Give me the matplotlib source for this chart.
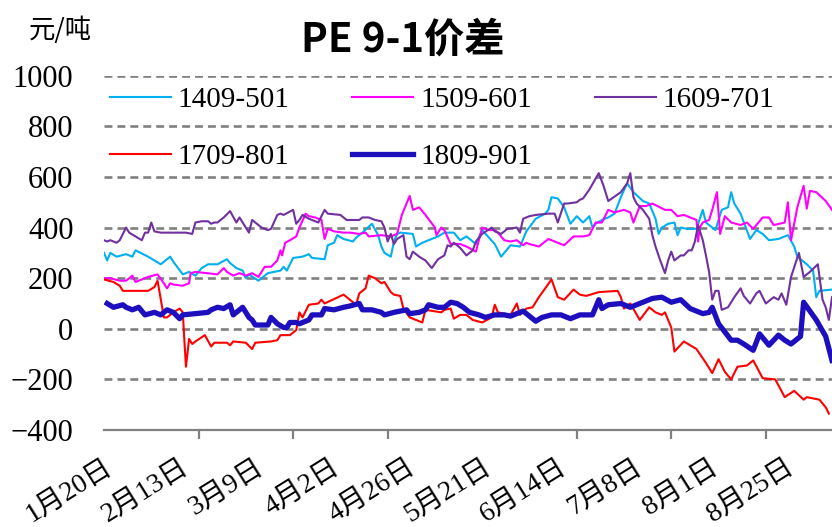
import matplotlib
matplotlib.use("Agg")
import matplotlib.pyplot as plt

plt.rcParams["font.family"] = ["Liberation Serif", "Noto Sans CJK SC"]

# x values are day offsets from 1月20日
tick_days = [0, 24, 48, 72, 96, 120, 144, 168, 192, 216]
tick_labels = ["1月20日", "2月13日", "3月9日", "4月2日", "4月26日",
               "5月21日", "6月14日", "7月8日", "8月1日", "8月25日"]
mark_days = [0, 30, 60, 90, 120, 150, 180, 210]
series_names = ["1409-501", "1509-601", "1609-701", "1709-801", "1809-901"]

x_1409 = [0, 1, 2, 4, 7, 9, 10, 14, 18, 19, 21, 22, 25, 27, 29, 31, 33, 36, 39, 40,
          42, 44, 45, 46, 49, 52, 56, 57, 58, 60, 63, 65, 66, 70, 71, 73, 74, 76, 79, 80,
          82, 85, 87, 88, 89, 91, 92, 93, 94, 98, 99, 101, 103, 106, 108, 111, 113, 115, 118, 120,
          124, 126, 129, 132, 134, 137, 140, 141, 142, 144, 146, 148, 150, 152, 154, 155, 156, 158, 160, 162,
          164, 166, 168, 171, 173, 175, 176, 177, 179, 181, 182, 183, 185, 188, 190, 191, 194, 196, 198, 199,
          200, 202, 205, 207, 209, 211, 214, 217, 219, 220, 223, 225, 226, 227, 231]
y_1409 = [300, 270, 300, 285, 295, 285, 310, 285, 255, 265, 285, 265, 215, 225, 210, 240, 255, 255, 275, 260,
          240, 230, 200, 215, 190, 220, 230, 245, 230, 280, 285, 295, 280, 275, 330, 340, 370, 355, 345, 360,
          380, 415, 370, 325, 300, 285, 345, 375, 380, 375, 325, 340, 350, 365, 380, 380, 350, 365, 335, 390,
          335, 285, 330, 325, 385, 435, 455, 470, 520, 515, 480, 415, 445, 420, 445, 400, 415, 430, 440, 455,
          520, 575, 540, 505, 495, 435, 375, 400, 415, 420, 370, 400, 395, 395, 470, 420, 390, 470, 480, 540,
          495, 455, 355, 390, 375, 350, 355, 370, 325, 285, 255, 230, 125, 150, 155]

x_1509 = [0, 2, 5, 7, 9, 10, 12, 14, 17, 19, 20, 21, 22, 25, 27, 27.5, 29, 36, 38, 39,
          41, 43, 45, 47, 49, 51, 53, 55, 56, 56.5, 57.5, 59, 61, 62, 64, 65, 67, 69, 70, 71,
          73, 76, 78, 81, 83, 84, 88, 91, 93, 94.5, 97, 98, 100, 102, 105, 105.5, 107, 108, 110, 113,
          115, 118, 120, 122, 124, 125, 127, 129, 131, 133, 134, 135, 138, 141, 143, 146, 149, 152, 154, 156,
          158, 160, 162, 165, 167, 168, 170, 172, 174, 178, 180, 182, 184, 186, 188, 188.5, 189, 190, 192, 193,
          194.5, 195.5, 197, 199, 202, 204, 206, 209, 211, 212.5, 216, 217, 218, 220, 222, 223, 224, 226, 229, 231]
y_1509 = [200, 200, 190, 190, 210, 185, 195, 205, 215, 180, 160, 180, 175, 170, 180, 220, 225, 215, 240, 225,
          210, 220, 210, 220, 205, 245, 245, 270, 310, 290, 340, 350, 365, 400, 455, 445, 440, 430, 355, 395,
          385, 380, 380, 375, 380, 365, 370, 365, 375, 450, 525, 470, 480, 450, 400, 370, 400, 390, 335, 335,
          325, 305, 400, 390, 390, 380, 350, 345, 350, 330, 340, 335, 325, 355, 345, 330, 365, 365, 370, 420,
          420, 470, 460, 470, 460, 420, 485, 485, 495, 470, 470, 445, 450, 440, 430, 345, 400, 420, 430, 470,
          540, 375, 445, 420, 410, 420, 395, 440, 440, 410, 420, 500, 350, 480, 565, 475, 545, 540, 505, 470]

x_1609 = [0, 1, 2, 4, 5, 7, 8, 10, 12, 13, 14, 15, 16, 18, 26, 28, 29, 31, 33, 34,
          35, 36, 38, 40, 42, 43, 45, 46, 47, 50, 52, 53, 55, 56, 57, 60, 61, 62, 63, 65,
          68, 70, 71, 75, 77, 78, 81, 82, 84, 86, 88, 89, 90, 91, 92, 93, 95, 96, 97, 98,
          100, 102, 104, 106, 108, 109, 110, 111, 113, 115, 117, 118, 120, 123, 124, 126, 128, 131, 132, 133,
          135, 137, 141, 143, 144, 146, 147, 150, 151, 152, 154, 157, 158.5, 160, 164, 166, 167, 168, 169, 171,
          173, 174, 175, 176.5, 178, 179, 180, 181, 183, 184, 185.5, 186.5, 187.5, 188.5, 190, 191, 192, 193, 194, 195,
          196, 198, 200, 202, 203, 205, 207, 208, 210, 212.5, 214, 215, 216.5, 218, 220.5, 222, 224, 226.5, 228, 229,
          230, 231]
y_1609 = [350, 345, 350, 340, 350, 400, 380, 365, 350, 380, 380, 420, 385, 380, 380, 375, 420, 425, 425, 415,
          420, 420, 440, 465, 420, 440, 400, 380, 430, 400, 390, 395, 450, 455, 450, 470, 415, 430, 450, 435,
          420, 470, 455, 450, 430, 430, 430, 440, 440, 430, 425, 400, 345, 375, 335, 355, 370, 285, 275, 305,
          285, 270, 240, 275, 290, 330, 325, 340, 320, 290, 310, 345, 375, 400, 385, 375, 395, 400, 380, 435,
          445, 450, 455, 455, 420, 495, 495, 500, 510, 515, 550, 615, 565, 505, 540, 575, 615, 520, 495, 470,
          435, 370, 325, 270, 220, 270, 305, 270, 290, 290, 310, 310, 345, 410, 350, 290, 225, 115, 150, 150,
          75, 85, 125, 160, 130, 100, 140, 150, 100, 125, 115, 140, 95, 205, 300, 205, 225, 255, 115, 85,
          35, 125]

x_1709 = [0, 3, 5, 6, 14, 16, 17, 19, 20, 22, 24, 25, 25.5, 26, 27, 28, 29, 32, 34, 35,
          39, 40, 41, 45, 47, 48, 53, 55, 56, 59, 61, 62, 63, 65, 68, 69, 70, 76, 78, 80,
          81, 82, 83, 84, 86, 88, 89, 91, 92, 94, 95, 97, 101, 102, 107, 108, 110, 111, 113, 115,
          117, 120, 123, 124, 125, 129, 131, 132, 134, 136, 138, 142, 144, 146, 149, 151, 153, 157, 163, 164,
          165, 167, 170, 173, 175, 177, 178, 180, 181, 184, 188, 191, 193, 195, 197, 199, 201, 204, 206, 209,
          213, 216, 219, 222, 223, 227, 229, 230]
y_1709 = [195, 185, 170, 150, 150, 165, 190, 45, 45, 65, 80, 65, -45, -150, -40, -60, -50, -25, -70, -55,
          -55, -65, -50, -55, -80, -55, -50, -45, -25, -25, -5, 65, 45, 95, 100, 115, 100, 135, 115, 95,
          140, 150, 160, 210, 200, 180, 185, 145, 135, 130, 80, 45, 25, 75, 65, 75, 80, 40, 55, 55,
          35, 25, 45, 95, 65, 55, 100, 55, 80, 85, 125, 195, 125, 115, 155, 135, 130, 145, 150, 125,
          80, 100, 35, 85, 65, 55, 65, 5, -90, -50, -80, -135, -175, -120, -170, -200, -150, -145, -125, -195,
          -200, -270, -245, -280, -270, -280, -310, -335]

x_1809 = [1, 3, 6, 7, 9, 11, 13, 16, 18, 20, 22, 24, 25, 33, 34, 36, 38, 40, 41, 44,
          46, 47, 48, 52, 53, 55, 57, 58, 59, 61, 62, 65, 66, 69, 70, 73, 76, 78, 81, 82,
          85, 88, 89, 92, 94, 96, 97, 100, 102, 103, 106, 108, 110, 112, 114, 116, 119, 121, 124, 127,
          129, 133, 137, 139, 142, 145, 148, 151, 155, 157, 158, 160, 164, 167, 170, 174, 177, 180, 183, 186,
          190, 192, 193, 195, 199, 201, 203, 206, 208, 211, 214, 216, 218, 221, 222, 226, 229, 231]
y_1809 = [100, 85, 95, 85, 75, 85, 55, 65, 55, 75, 65, 40, 55, 65, 75, 85, 80, 95, 55, 85,
          45, 35, 15, 15, 45, 20, 5, 5, 25, 25, 20, 35, 55, 55, 80, 75, 85, 90, 100, 75,
          75, 65, 55, 65, 70, 75, 60, 65, 75, 95, 85, 85, 105, 100, 85, 65, 55, 45, 55, 55,
          50, 70, 30, 45, 55, 55, 40, 55, 55, 115, 80, 95, 100, 85, 100, 120, 125, 105, 115, 80,
          60, 65, 85, 20, -45, -45, -60, -85, -20, -65, -25, -45, -60, -30, 105, 35, -30, -125]

colors = ["#00B0F0", "#FF00FF", "#7030A0", "#FF0000", "#1E0FBE"]
widths = [1.5, 1.5, 1.5, 1.5, 3.8]
xs = [x_1409, x_1509, x_1609, x_1709, x_1809]
ys = [y_1409, y_1509, y_1609, y_1709, y_1809]

fig = plt.figure(figsize=(8.32, 5.27), dpi=100)
ax = fig.add_axes([0.125, 0.184, 0.875, 0.6723])

handles = []
for name, x, y, c, w in zip(series_names, xs, ys, colors, widths):
    h, = ax.plot(x, y, color=c, lw=w, label=name, zorder=3, solid_joinstyle="round")
    handles.append(h)

ax.set_xlim(0, 231)
ax.set_ylim(-400, 1000)
ax.set_yticks(range(-400, 1001, 200))
ax.yaxis.grid(True, color="#808080", lw=1.9, ls=(0, (3.0, 1.9)), zorder=1)
ax.tick_params(axis="y", length=0, pad=22, labelsize=22)

ax.set_xticks(tick_days)
ax.set_xticklabels(tick_labels, rotation=32, ha="right", rotation_mode="anchor")
ax.set_xticks(mark_days, minor=True)
ax.tick_params(axis="x", which="major", length=0, pad=18, labelsize=20)
ax.tick_params(axis="x", which="minor", length=6.5, width=1.6, color="#808080")

for s in ["left", "right", "top"]:
    ax.spines[s].set_visible(False)
ax.spines["bottom"].set_color("#808080")
ax.spines["bottom"].set_linewidth(1.6)

# legend row-major: 3 columns
order = [0, 3, 1, 4, 2]
ax.legend([handles[i] for i in order], [series_names[i] for i in order],
          ncol=3, loc="upper left", bbox_to_anchor=(0.132, 0.836),
          bbox_transform=fig.transFigure, frameon=False, fontsize=21,
          handlelength=2.09, handletextpad=0.24, columnspacing=2.15,
          labelspacing=1.06, borderpad=0, borderaxespad=0)

fig.text(0.484, 0.924, "PE 9-1价差", ha="center", va="center", fontsize=29,
         fontweight="bold", family=["Noto Sans CJK SC", "DejaVu Sans"])
fig.text(0.073, 0.943, "元/吨", ha="center", va="center", fontsize=19,
         family=["Noto Sans CJK SC", "DejaVu Sans"])

fig.savefig("out.png", dpi=100, facecolor="white")
